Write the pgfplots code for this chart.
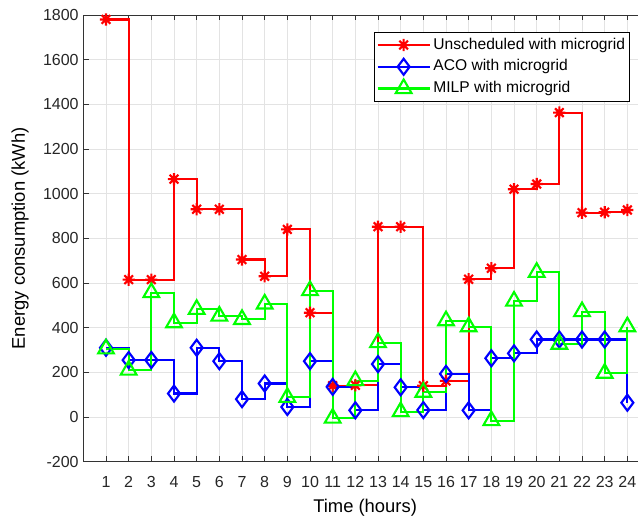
\documentclass[border=0pt]{standalone}
\usepackage{fontspec}
\setmainfont{Liberation Sans}
\usepackage{pgfplots}
\pgfplotsset{compat=1.18}
\pgfdeclareplotmark{mstar}{%
  \pgfpathmoveto{\pgfqpoint{-\pgfplotmarksize}{0pt}}\pgfpathlineto{\pgfqpoint{\pgfplotmarksize}{0pt}}%
  \pgfpathmoveto{\pgfqpoint{0pt}{-\pgfplotmarksize}}\pgfpathlineto{\pgfqpoint{0pt}{\pgfplotmarksize}}%
  \pgfpathmoveto{\pgfqpoint{-.7071\pgfplotmarksize}{-.7071\pgfplotmarksize}}\pgfpathlineto{\pgfqpoint{.7071\pgfplotmarksize}{.7071\pgfplotmarksize}}%
  \pgfpathmoveto{\pgfqpoint{-.7071\pgfplotmarksize}{.7071\pgfplotmarksize}}\pgfpathlineto{\pgfqpoint{.7071\pgfplotmarksize}{-.7071\pgfplotmarksize}}%
  \pgfusepathqstroke}
\begin{document}
\begin{tikzpicture}
\useasboundingbox (0,0) rectangle (478.5pt,386.25pt);
\begin{axis}[
  at={(62.5pt,40pt)}, anchor=south west,
  scale only axis, width=416pt, height=335pt,
  xmin=0, xmax=24.47, ymin=-200, ymax=1800,
  xtick={1,...,24}, ytick={-200,0,200,...,1800},
  axis x line*=box, axis y line*=left,
  x axis line style={-}, y axis line style={-},
  axis line style={black!80, line width=0.6pt},
  tick align=inside, major tick length=4pt,
  tick style={black!80, line width=0.5pt},
  xtick pos=both, ytick pos=left,
  grid=major, major grid style={gray!22, line width=0.5pt},
  /pgf/number format/assume math mode=true,
  /pgf/number format/set thousands separator={},
  ticklabel style={font=\fontsize{12}{14}\selectfont, color=black!85},
  xticklabel style={inner sep=5pt, yshift=-5.7pt},
  every axis x label/.style={at={(axis description cs:0.508,-0.104)}, anchor=center, font=\fontsize{13.8}{16}\selectfont},
  every axis y label/.style={at={(axis description cs:-0.114,0.5)}, anchor=center, rotate=90, font=\fontsize{13.8}{16}\selectfont},
  xlabel={Time (hours)}, ylabel={Energy consumption (kWh)},
  legend style={at={(axis description cs:1,1)}, anchor=north east, xshift=-6pt, yshift=-12.75pt,
    draw=black, line width=0.5pt, fill=white, inner xsep=1.5pt, inner ysep=1.4pt, row sep=0pt,
    font=\fontsize{11.7}{14}\selectfont,
    nodes={inner xsep=2pt, inner ysep=2.15pt, text height=9pt, text depth=3pt, anchor=west}},
  legend cell align=left,
  legend image code/.code={\draw[mark repeat=2, mark phase=2, #1] plot coordinates {(0pt,0pt) (19.5pt,0pt) (39pt,0pt)};},
  every axis plot/.append style={line width=1.6pt, const plot},
]
\addplot[red, mark=mstar, mark size=4.6pt, mark options={solid}] coordinates {
(1,1780) (2,615) (3,615) (4,1065) (5,930) (6,930) (7,705) (8,630) (9,840) (10,467) (11,140) (12,142)
(13,852) (14,852) (15,140) (16,162) (17,617) (18,666) (19,1020) (20,1043) (21,1363) (22,915) (23,917) (24,927)};
\addplot[blue, mark=diamond, mark size=6pt, mark options={solid}] coordinates {
(1,310) (2,255) (3,255) (4,105) (5,310) (6,250) (7,80) (8,150) (9,45) (10,250) (11,135) (12,30)
(13,237) (14,133) (15,31) (16,193) (17,30) (18,263) (19,285) (20,347) (21,347) (22,347) (23,347) (24,64)};
\addplot[green, mark=triangle, mark size=6.8pt, mark options={solid}] coordinates {
(1,305) (2,210) (3,557) (4,422) (5,482) (6,452) (7,437) (8,506) (9,88) (10,566) (11,-5) (12,163)
(13,333) (14,24) (15,111) (16,431) (17,404) (18,-16) (19,519) (20,648) (21,326) (22,472) (23,196) (24,404)};
\legend{Unscheduled with microgrid, ACO with microgrid, MILP with microgrid}
\end{axis}
\end{tikzpicture}
\end{document}
